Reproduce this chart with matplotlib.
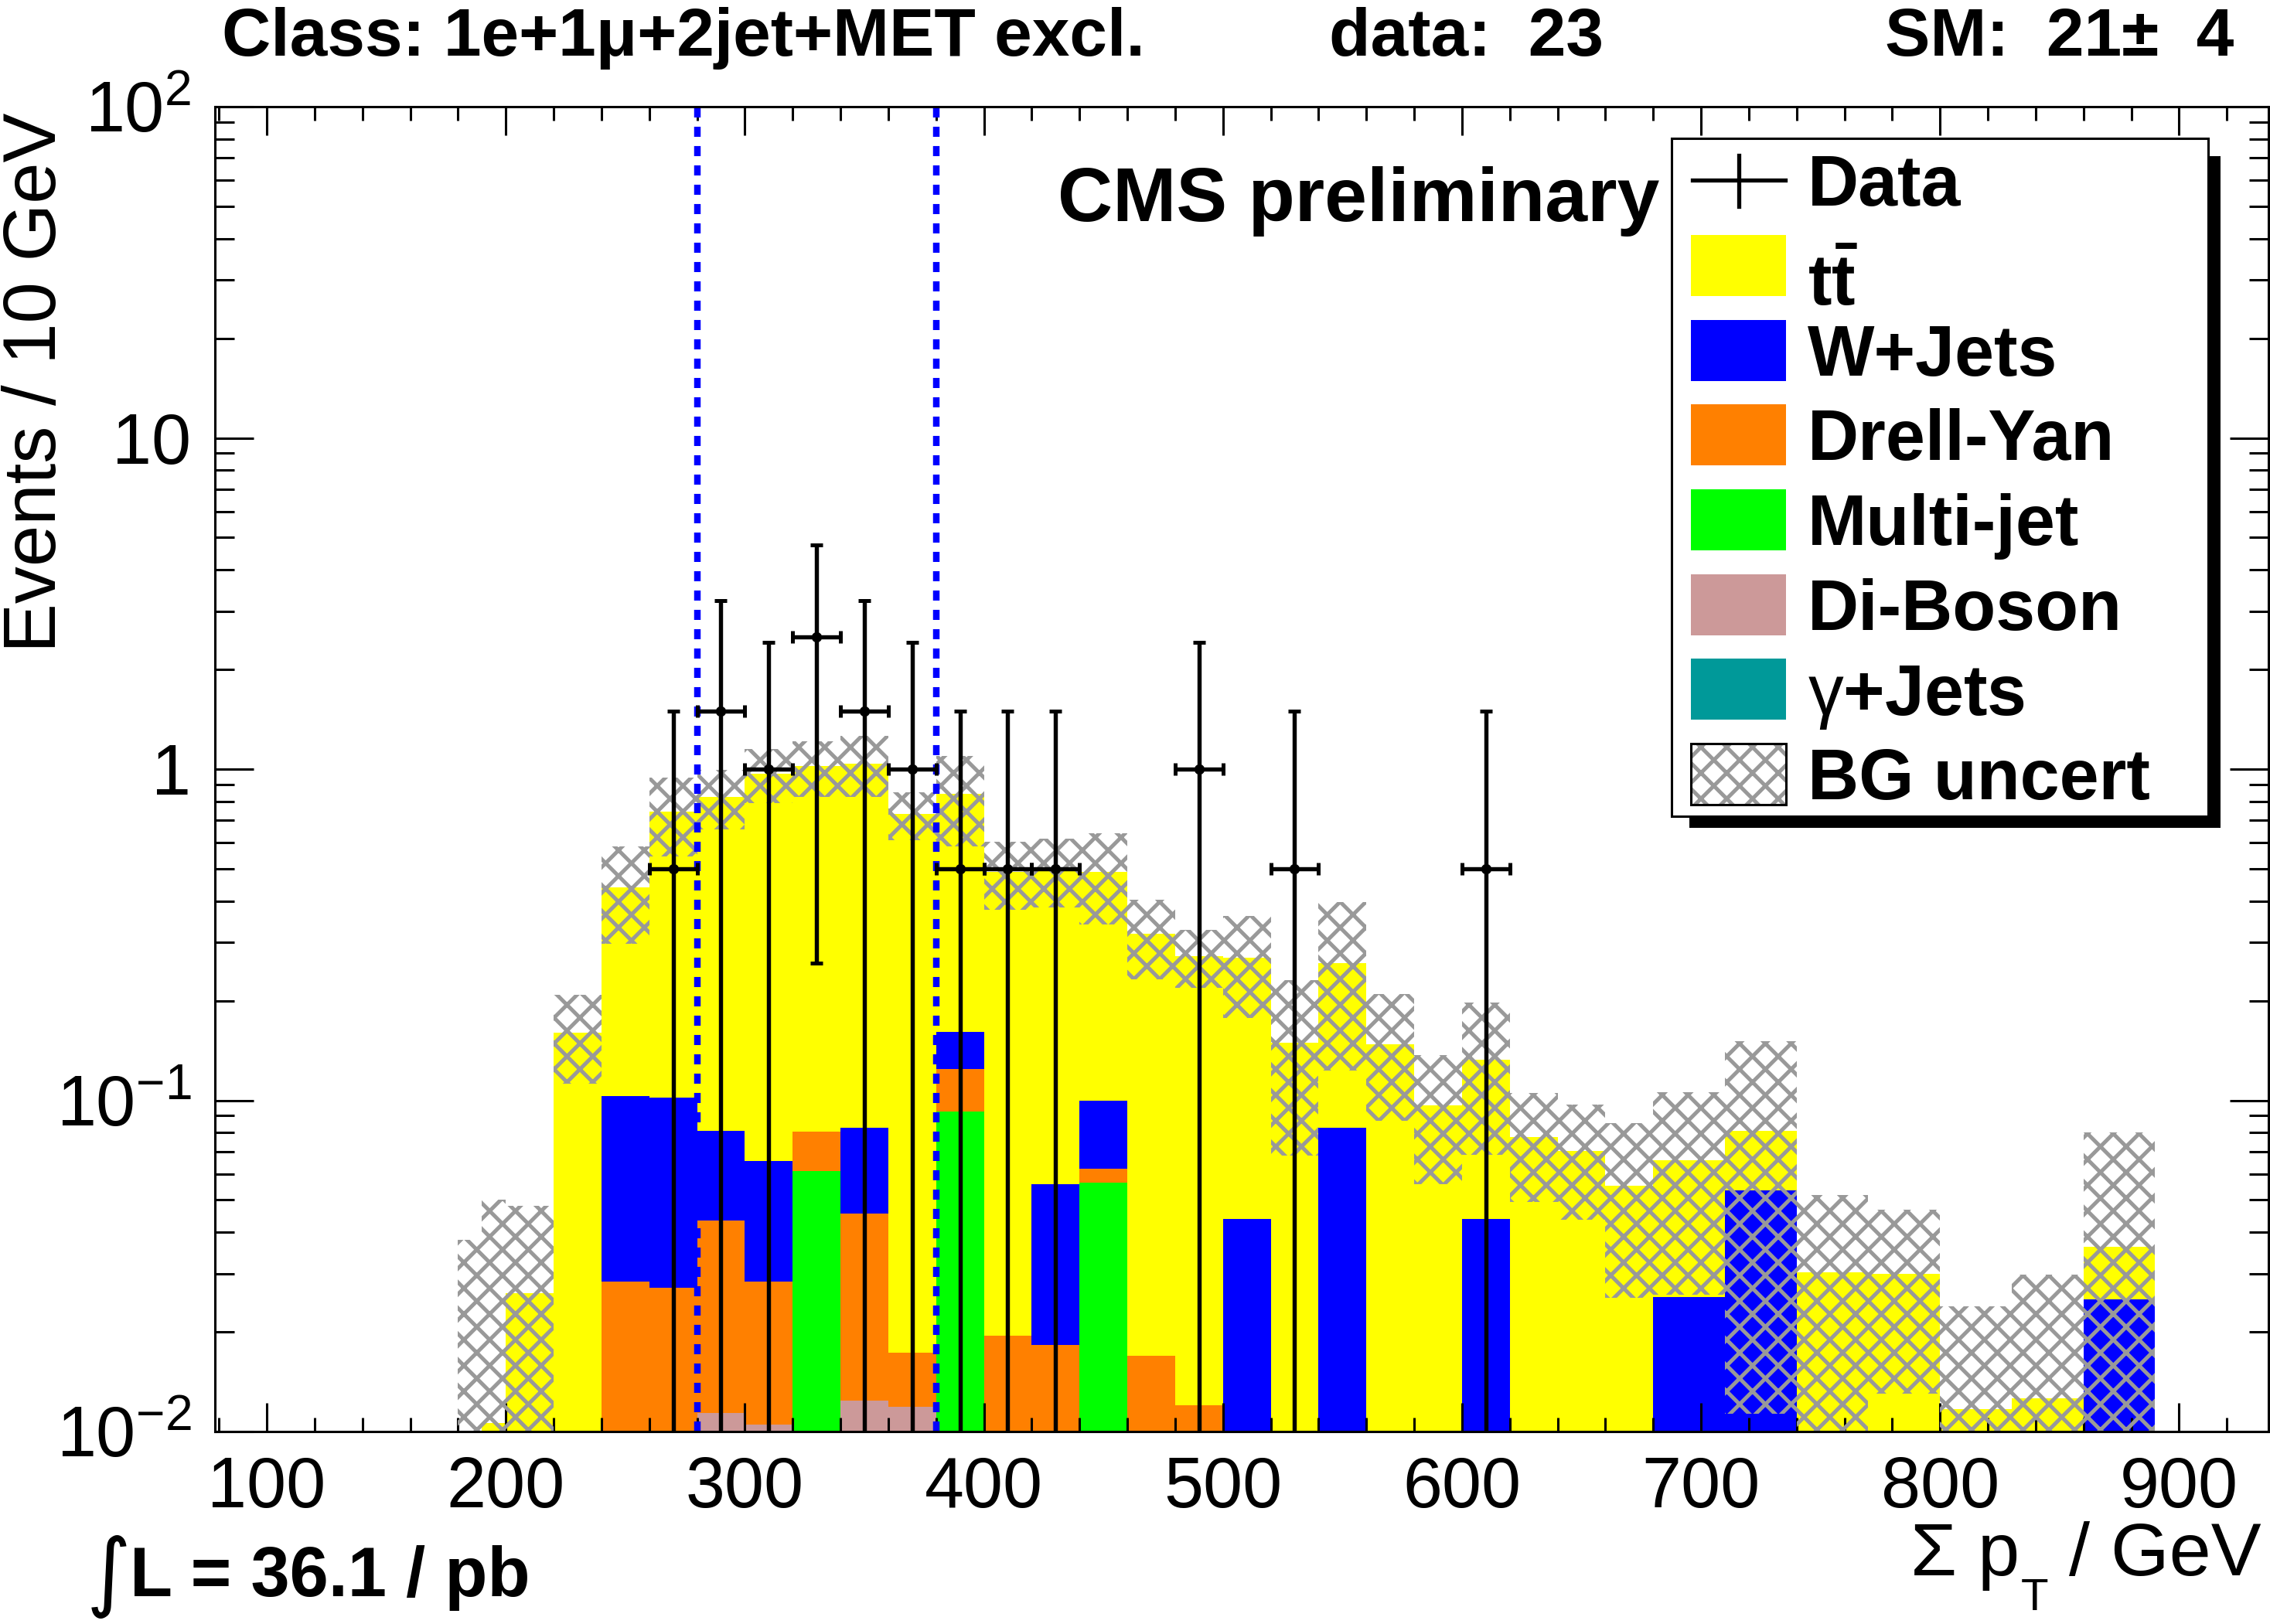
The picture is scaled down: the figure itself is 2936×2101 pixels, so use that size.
import numpy as np
import matplotlib
matplotlib.use("Agg")
import matplotlib.pyplot as plt
import matplotlib.transforms as mtransforms
from matplotlib.patches import Rectangle
from matplotlib.lines import Line2D
from matplotlib.ticker import MultipleLocator, LogLocator, FixedLocator, FixedFormatter, NullFormatter

# ---------------- data (Events / 10 GeV) ----------------
bin_edges = [180, 190, 200, 220, 240, 260, 280, 300, 320, 340, 360, 380, 400, 420,
             440, 460, 480, 500, 520, 540, 560, 580, 600, 620, 640, 660, 680, 710,
             740, 770, 800, 830, 860, 890]

ttbar = [0.004, 0.0106, 0.0262, 0.160, 0.337, 0.642, 0.745, 0.904, 0.94, 0.957, 0.714,
         0.68, 0.4705, 0.444, 0.39, 0.301, 0.261, 0.225, 0.1495, 0.177, 0.148, 0.0965,
         0.089, 0.0773, 0.0704, 0.0553, 0.0403, 0.0273, 0.0303, 0.0299, 0.0117, 0.0126, 0.011]
wjets = [0, 0, 0, 0, 0.0748, 0.0747, 0.0376, 0.0373, 0, 0.0372, 0, 0.037, 0, 0.0374,
         0.0377, 0, 0, 0.0438, 0, 0.0828, 0, 0, 0.0438, 0, 0, 0, 0.0255, 0.0536,
         0, 0, 0, 0, 0.0251]
drellyan = [0, 0, 0, 0, 0.0283, 0.0272, 0.032, 0.0178, 0.0195, 0.0331, 0.0054, 0.0314,
            0.0195, 0.0183, 0.0058, 0.0169, 0.012, 0, 0, 0, 0, 0, 0, 0, 0, 0, 0, 0,
            0, 0, 0, 0, 0]
multijet = [0, 0, 0, 0, 0, 0, 0, 0, 0.061, 0, 0, 0.0926, 0, 0, 0.0563, 0, 0, 0, 0, 0,
            0, 0, 0, 0, 0, 0, 0, 0, 0, 0, 0, 0, 0]
diboson = [0, 0, 0, 0, 0, 0, 0.0114, 0.0105, 0, 0.0124, 0.0119, 0, 0, 0, 0, 0, 0, 0, 0,
           0, 0, 0, 0, 0, 0, 0, 0, 0, 0, 0, 0, 0, 0]
gammajets = [0, 0, 0, 0, 0, 0, 0, 0, 0, 0, 0, 0, 0, 0, 0, 0, 0, 0, 0, 0, 0, 0, 0, 0,
             0, 0, 0, 0, 0, 0, 0, 0, 0]
bg_uncert = [0.034, 0.0396, 0.0218, 0.048, 0.143, 0.2, 0.167, 0.18, 0.195, 0.217, 0.12,
             0.257, 0.1135, 0.117, 0.151, 0.086, 0.054, 0.0916, 0.0814, 0.137, 0.0614,
             0.0407, 0.0645, 0.0281, 0.0268, 0.03, 0.0399, 0.0696, 0.0214, 0.0169,
             0.0122, 0.0171, 0.0439]

data_x = [270, 290, 310, 330, 350, 370, 390, 410, 430, 490, 530, 610]
data_y = [0.5, 1.5, 1.0, 2.5, 1.5, 1.0, 0.5, 0.5, 0.5, 1.0, 0.5, 0.5]
data_err = [1.0, 1.73, 1.41, 2.24, 1.73, 1.41, 1.0, 1.0, 1.0, 1.41, 1.0, 1.0]
data_xerr = [10, 10, 10, 10, 10, 10, 10, 10, 10, 10, 10, 10]

roi_lines = [280, 380]

ytick_vals = [1e-2, 1e-1, 1, 10, 100]
ytick_labels = [r"$\mathregular{10^{-2}}$", r"$\mathregular{10^{-1}}$", "1", "10",
                r"$\mathregular{10^{2}}$"]

legend_labels = ["Data", r"$\mathbf{t\bar{t}}$", "W+Jets", "Drell-Yan", "Multi-jet",
                 "Di-Boson", r"$\mathrm{\gamma}$+Jets", "BG uncert"]

col_tt, col_w, col_dy = "#FFFF00", "#0000FF", "#FF8000"
col_mj, col_db, col_gj = "#00FF00", "#CC9999", "#009999"
col_band = "#999999"

# ---------------- style ----------------
plt.rcParams["font.family"] = ["Liberation Sans", "DejaVu Sans"]
plt.rcParams["mathtext.fontset"] = "custom"
plt.rcParams["mathtext.rm"] = "Liberation Sans"
plt.rcParams["mathtext.bf"] = "Liberation Sans:bold"
plt.rcParams["mathtext.it"] = "Liberation Sans:italic"
plt.rcParams["hatch.linewidth"] = 3.6
plt.rcParams["lines.scale_dashes"] = False

W, H, DPI = 2936, 2101, 100
fig = plt.figure(figsize=(W / DPI, H / DPI), dpi=DPI)
fig.patch.set_facecolor("white")
# pixel transform (origin top-left, y down)
px = mtransforms.Affine2D().scale(1.0 / W, -1.0 / H).translate(0, 1) + fig.transFigure

ax = fig.add_axes([278 / W, 1 - 1852 / H, (2934 - 278) / W, (1852 - 138) / H])

edges = np.array(bin_edges, dtype=float)
lefts = edges[:-1]
widths = np.diff(edges)

stack = [(gammajets, col_gj), (diboson, col_db), (multijet, col_mj),
         (drellyan, col_dy), (wjets, col_w), (ttbar, col_tt)]
cum = np.zeros(len(lefts))
for vals, c in stack:
    v = np.array(vals, dtype=float)
    base = np.maximum(cum, 1e-5)
    ax.bar(lefts, (cum + v) - base, width=widths, bottom=base, align="edge",
           color=c, linewidth=0, zorder=1)
    cum = cum + v
total = cum

err = np.array(bg_uncert)
lo = np.maximum(total - err, 1e-5)
hi = total + err
ax.bar(lefts, hi - lo, width=widths, bottom=lo, align="edge", facecolor="none",
       edgecolor=col_band, hatch="x", linewidth=0, zorder=2)

for xv in roi_lines:
    ax.axvline(xv, color="#0000FF", lw=6.1, ls=(0, (9.4, 8.6)), zorder=3)

dy = np.array(data_y)
de = np.array(data_err)
low = np.where(dy - de > 0, de, dy - 1e-4)
ax.errorbar(data_x, dy, xerr=data_xerr, yerr=[low, de], fmt="o", color="black",
            ms=8.6, elinewidth=3.9, capsize=5.6, capthick=3.6, zorder=4)

ax.set_yscale("log")
ax.set_ylim(1e-2, 1e2)
ax.set_xlim(78.3, 937.4)

ax.xaxis.set_major_locator(MultipleLocator(100))
ax.xaxis.set_minor_locator(MultipleLocator(20))
ax.yaxis.set_major_locator(FixedLocator(ytick_vals))
ax.yaxis.set_major_formatter(FixedFormatter(ytick_labels))
ax.yaxis.set_minor_locator(LogLocator(base=10, subs=np.arange(2, 10), numticks=20))
ax.yaxis.set_minor_formatter(NullFormatter())

ax.tick_params(axis="both", which="both", direction="in", top=True, right=True,
               width=2.2, labelsize=66, pad=22)
ax.tick_params(axis="x", which="major", length=26.6)
ax.tick_params(axis="x", which="minor", length=13)
ax.tick_params(axis="y", which="major", length=36)
ax.tick_params(axis="y", which="minor", length=18)
for s in ax.spines.values():
    s.set_linewidth(2.2)
    s.set_zorder(6)

# ---------------- texts ----------------
fig.text(287, 71.7, "Class: 1e+1\u03bc+2jet+MET excl.", transform=px, fontsize=63,
         fontweight="bold", ha="left", va="baseline")
fig.text(1719, 71.7, "data:  23", transform=px, fontsize=63, fontweight="bold",
         ha="left", va="baseline")
fig.text(2438, 71.7, "SM:  21\u00b1  4", transform=px, fontsize=63, fontweight="bold",
         ha="left", va="baseline")
fig.text(1368, 286, "CMS preliminary", transform=px, fontsize=71, fontweight="bold",
         ha="left", va="baseline")
fig.text(72, 146, "Events / 10 GeV", transform=px, fontsize=69, rotation=90,
         rotation_mode="anchor", ha="right", va="baseline")

# x-axis title built from pieces (large, low subscript like the original)
renderer = fig.canvas.get_renderer()
t3 = fig.text(2925, 2038, " / GeV", transform=px, fontsize=70, ha="right", va="baseline")
bb3 = t3.get_window_extent(renderer)
x3 = bb3.x0
t2 = fig.text(x3, 2083, "T", transform=px, fontsize=42, ha="right", va="baseline")
bb2 = t2.get_window_extent(renderer)
fig.text(bb2.x0 - 2, 2038, "\u03a3 p", transform=px, fontsize=70, ha="right",
         va="baseline")

fig.text(112, 2070, "\u222b", transform=px, fontsize=80, family="DejaVu Sans",
         ha="left", va="baseline")
fig.text(168, 2065, "L = 36.1 / pb", transform=px, fontsize=65, fontweight="bold",
         ha="left", va="baseline")

# ---------------- legend (drawn in pixel coordinates) ----------------
fig.add_artist(Rectangle((2185, 202), 2872 - 2185, 1071 - 202, transform=px,
                         facecolor="black", edgecolor="none", zorder=5))
fig.add_artist(Rectangle((2162, 179), 2856 - 2162, 1056 - 179, transform=px,
                         facecolor="white", edgecolor="black", lw=2.2, zorder=6))
row_c = [233.4, 343.4, 453.1, 562.0, 672.0, 782.0, 891.5, 1001.0]
box_cols = [None, col_tt, col_w, col_dy, col_mj, col_db, col_gj, "hatch"]
bx0, bx1, bh = 2187, 2310, 79
for i, (lab, c) in enumerate(zip(legend_labels, box_cols)):
    yc = row_c[i]
    if c is None:
        fig.add_artist(Line2D([2189, 2309], [yc, yc], transform=px, color="black",
                              lw=3.8, zorder=7))
        fig.add_artist(Line2D([2249, 2249], [201, 267], transform=px, color="black",
                              lw=3.8, zorder=7))
    elif c == "hatch":
        fig.add_artist(Rectangle((bx0, yc - bh / 2), bx1 - bx0, bh, transform=px,
                                 facecolor="white", edgecolor=col_band, hatch="x",
                                 lw=0, zorder=7))
        fig.add_artist(Rectangle((bx0, yc - bh / 2), bx1 - bx0, bh, transform=px,
                                 facecolor="none", edgecolor="black", lw=2.2, zorder=8))
    else:
        fig.add_artist(Rectangle((bx0, yc - bh / 2), bx1 - bx0, bh, transform=px,
                                 facecolor=c, edgecolor="none", zorder=7))
    base_y = yc + 33
    if i == 1:
        base_y = 394.7
    fig.text(2338, base_y, lab, transform=px, fontsize=66, fontweight="bold",
             ha="left", va="baseline", zorder=9)

fig.savefig("out.png", dpi=DPI, facecolor="white")
